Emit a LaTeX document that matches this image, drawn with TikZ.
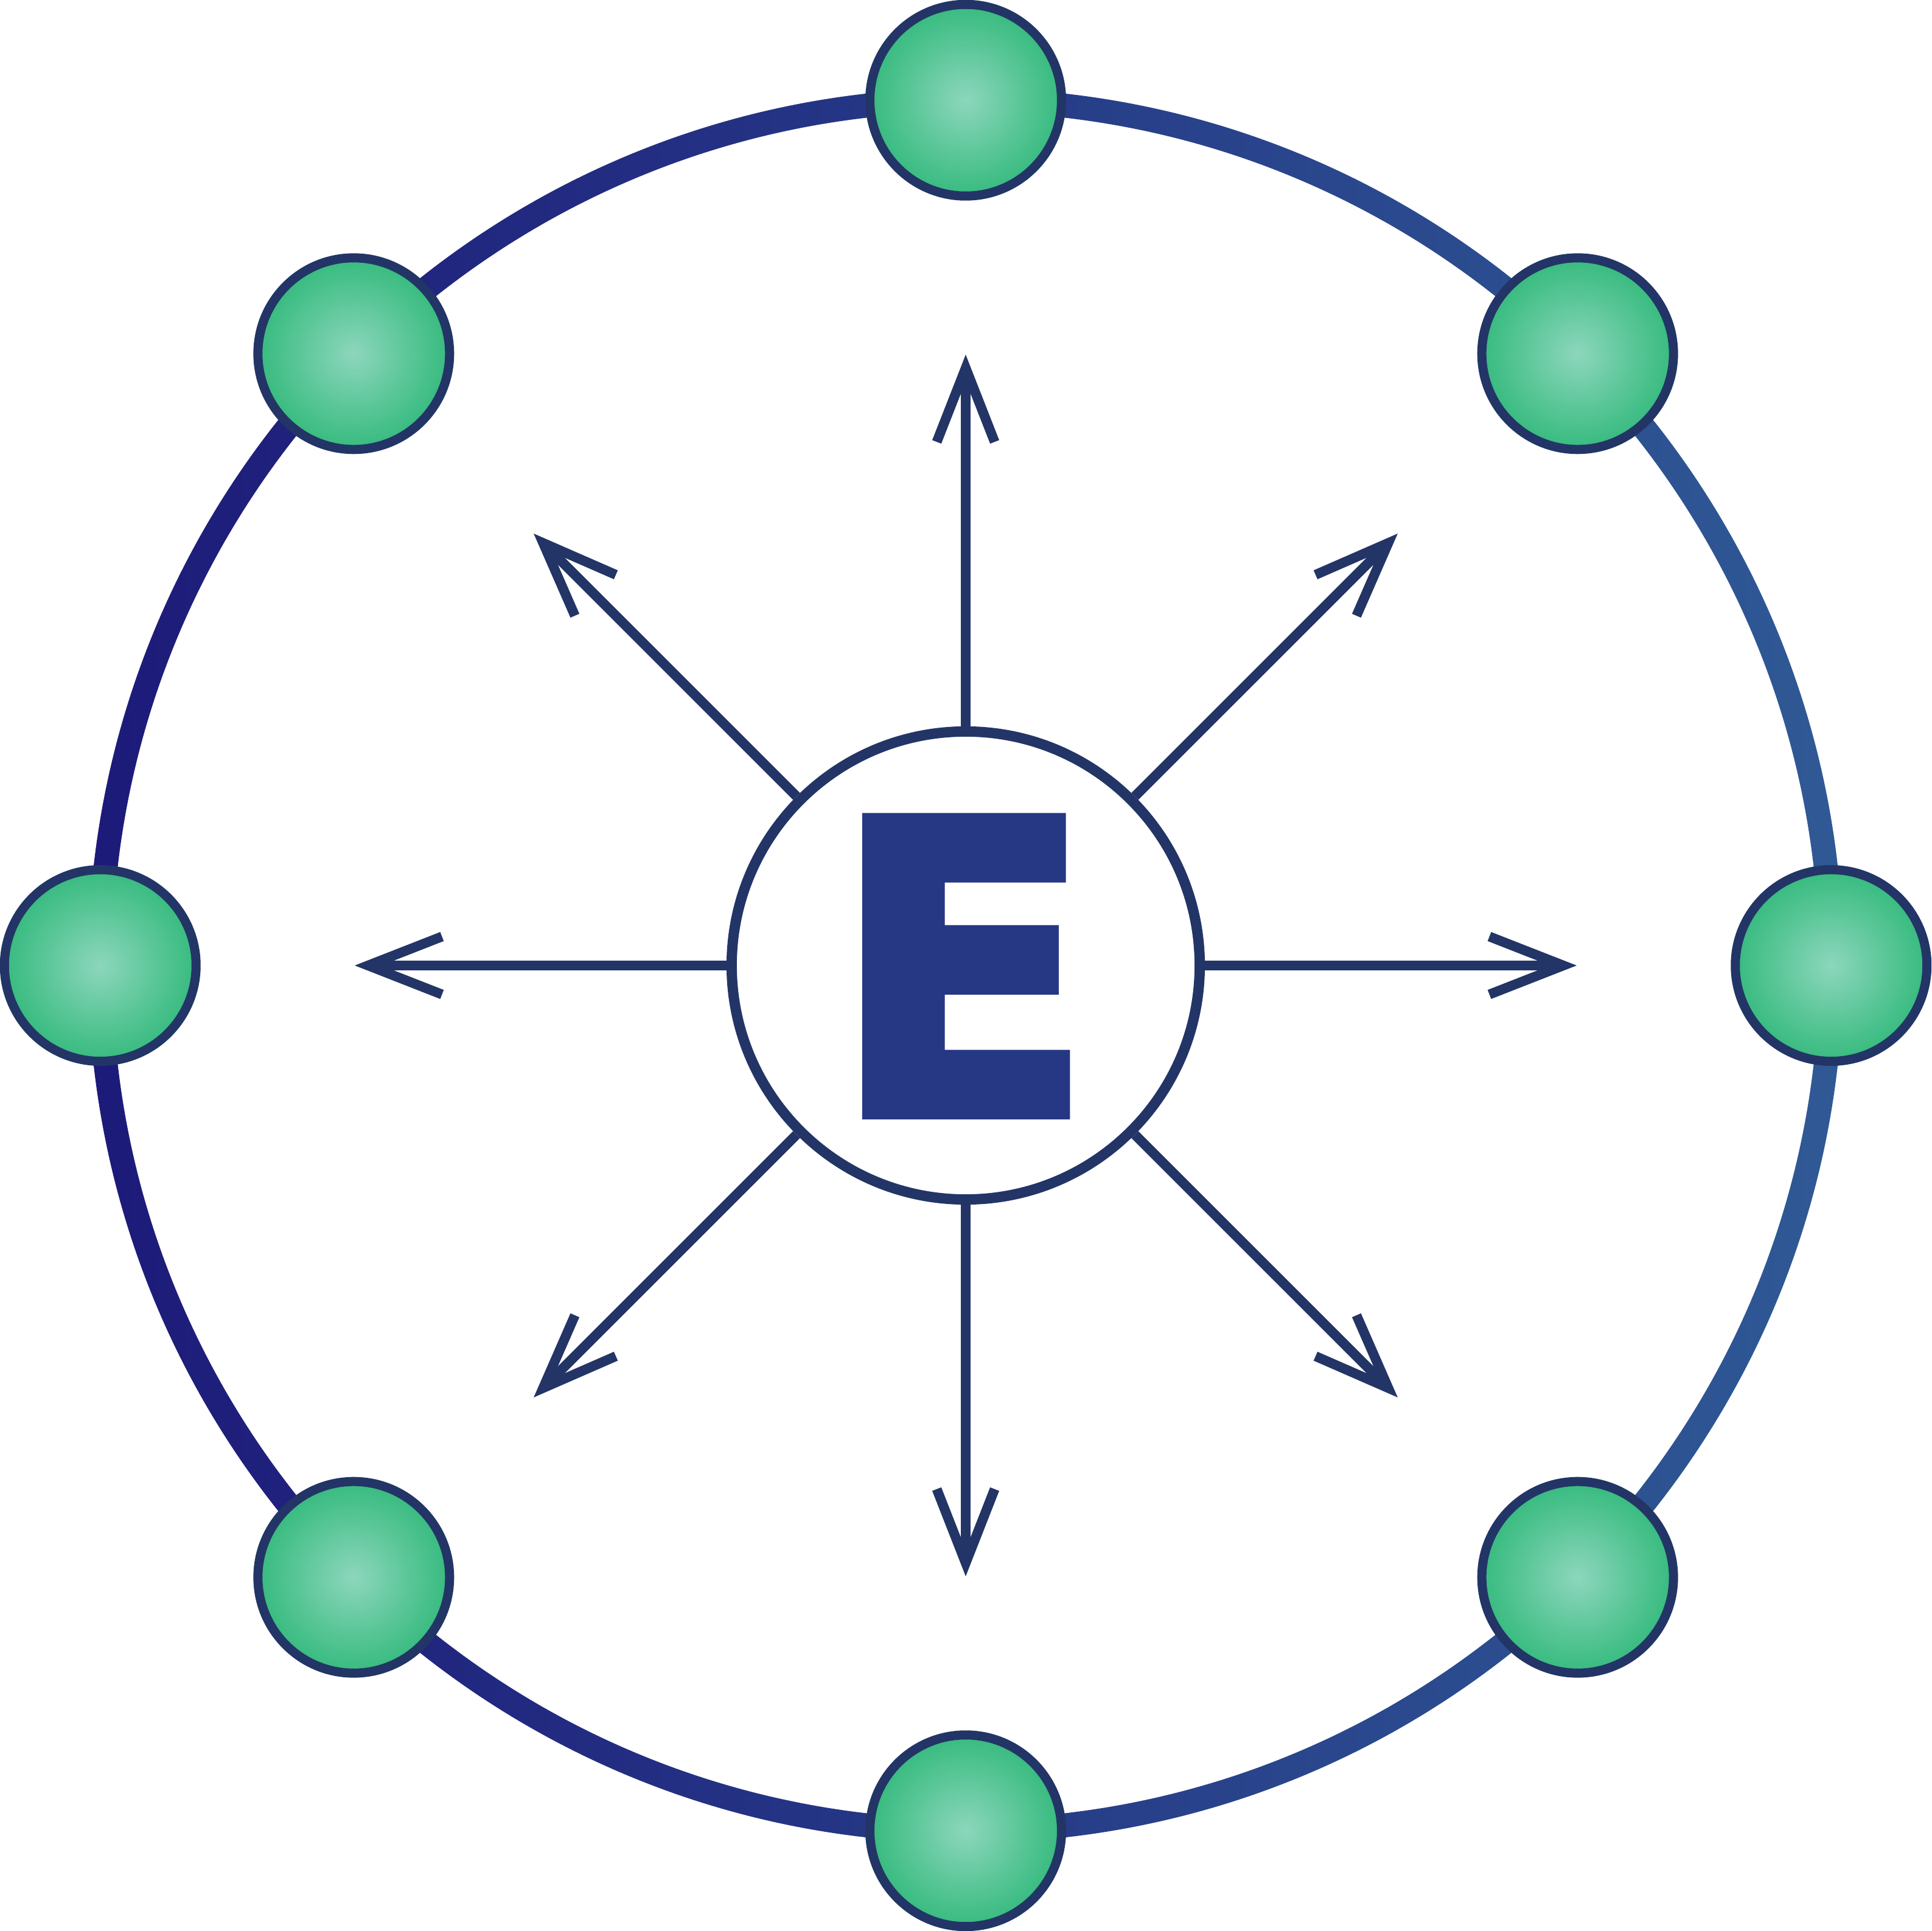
\documentclass[tikz,border=0pt]{standalone}
\usepackage{fontspec}
\usepackage{graphicx}
\usetikzlibrary{arrows.meta}
\newfontfamily\efont[BoldFeatures={FakeBold=3}]{DejaVu Sans}
\definecolor{ringL}{HTML}{1D1A79}
\definecolor{ringR}{HTML}{2F5995}
\definecolor{navy}{HTML}{233566}
\definecolor{Ecol}{HTML}{263784}
\pgfdeclareradialshading{ballshade}{\pgfpoint{0bp}{0bp}}{rgb(0bp)=(0.55,0.84,0.74); rgb(14bp)=(0.36,0.78,0.60); rgb(30bp)=(0.15,0.71,0.45); rgb(100bp)=(0.15,0.71,0.45)}
\tikzset{
  ball/.style={circle, draw=navy, line width=0.74mm, shading=ballshade, minimum size=15.56mm, inner sep=0pt},
  core/.style={circle, draw=navy, line width=0.84mm, fill=white, minimum size=38mm, inner sep=0pt},
  arr/.style={draw=navy, line width=0.79mm, -{Straight Barb[length=6.0mm, width=4.7mm]}},
}
\begin{document}
\begin{tikzpicture}
\useasboundingbox (-78.4mm,-78.4mm) rectangle (78.4mm,78.4mm);
% outer ring
\shade[left color=ringL, right color=ringR, even odd rule]
  (0,0) circle (71.25mm) (0,0) circle (69.3mm);
% balls
\foreach \a [count=\i] in {0,45,...,315}
  \node[ball] (b\i) at (\a:70.26mm) {};
% centre
\node[core] (c) at (0,0) {};
% arrows
\foreach \a [count=\i] in {0,45,...,315} {
  \coordinate (t\i) at (\a:49.6mm);
  \draw[arr] (c.\a) -- (t\i);
}
% letter
\node[inner sep=0pt, anchor=base west, text=Ecol] (E) at (-10.84mm,-12.0mm)
  {\scalebox{0.903}[0.961]{\efont\bfseries\fontsize{97pt}{97pt}\selectfont E}};
\end{tikzpicture}
\end{document}
